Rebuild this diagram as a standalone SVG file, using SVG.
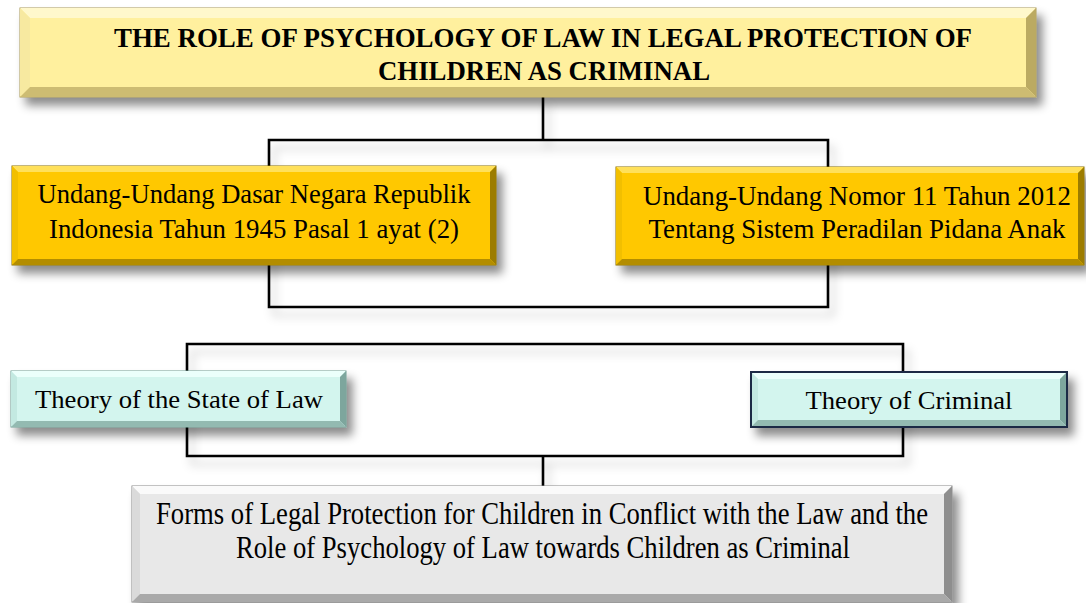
<svg xmlns="http://www.w3.org/2000/svg" width="1086" height="603" viewBox="0 0 1086 603">
<defs>
<filter id="sh" x="-10%" y="-25%" width="130%" height="170%">
<feDropShadow dx="6" dy="8" stdDeviation="5" flood-color="#000" flood-opacity="0.45"/>
</filter>
<filter id="lsh" x="-10%" y="-20%" width="130%" height="160%">
<feDropShadow dx="5" dy="8" stdDeviation="5" flood-color="#000" flood-opacity="0.22"/>
</filter>
</defs>
<style>
text{font-family:'Liberation Serif',serif;fill:#000;text-anchor:middle}
.t{font-weight:bold;font-size:28px}
.n{font-size:27px}
.m{font-size:26px}
.b{font-size:31px}
.conn{fill:none;stroke:#000;stroke-width:2.6}
.yf{fill:#FFF09E;stroke:#A89858;stroke-width:1}
.yt{fill:#FFF8CC}.yl{fill:#F7E9A0}.yr{fill:#BBAA62}.yb{fill:#CDBC72}
.of{fill:#FFC800;stroke:#8A6E00;stroke-width:1}
.ot{fill:#FFE05A}.ol{fill:#F2BF00}.or{fill:#9C7C00}.ob{fill:#B38D00}
.cf{fill:#D3F5EE;stroke:#6E9C92;stroke-width:1}
.cf2{fill:#D3F5EE;stroke:#1E2B45;stroke-width:2}
.ct{fill:#EBFFFB}.cl{fill:#C3E9E1}.cr{fill:#7DA69D}.cb{fill:#93BAB1}
.gf{fill:#E8E8E8;stroke:#8A8A8A;stroke-width:1}
.gt{fill:#FAFAFA}.gl{fill:#DADADA}.gr{fill:#8E8E8E}.gb{fill:#A9A9A9}
</style>
<g id="connectors" filter="url(#lsh)">
<path class="conn" d="M543,97 V140"/>
<path class="conn" d="M269,140 H828 V307 H269 Z"/>
<path class="conn" d="M187,344 H903 V456 H187 Z"/>
<path class="conn" d="M543,456 V486"/>
</g>
<g id="title" font-family="'Liberation Serif', serif">
<rect class="yf" x="20" y="8" width="1016" height="89" filter="url(#sh)"/>
<polygon class="yt" points="20,8 1036,8 1026,18 30,18"/>
<polygon class="yl" points="20,8 30,18 30,87 20,97"/>
<polygon class="yr" points="1036,8 1036,97 1026,87 1026,18"/>
<polygon class="yb" points="20,97 30,87 1026,87 1036,97"/>
<text class="t" x="543" y="47" textLength="858" lengthAdjust="spacingAndGlyphs">THE ROLE OF PSYCHOLOGY OF LAW IN LEGAL PROTECTION OF</text>
<text class="t" x="544" y="80" textLength="332" lengthAdjust="spacingAndGlyphs">CHILDREN AS CRIMINAL</text>
</g>
<g id="uud1945" font-family="'Liberation Serif', serif">
<rect class="of" x="12" y="166" width="484" height="99" filter="url(#sh)"/>
<polygon class="ot" points="12,166 496,166 490,172 18,172"/>
<polygon class="ol" points="12,166 18,172 18,259 12,265"/>
<polygon class="or" points="496,166 496,265 490,259 490,172"/>
<polygon class="ob" points="12,265 18,259 490,259 496,265"/>
<text class="n" x="254" y="203" textLength="433" lengthAdjust="spacingAndGlyphs">Undang-Undang Dasar Negara Republik</text>
<text class="n" x="254" y="238" textLength="410" lengthAdjust="spacingAndGlyphs">Indonesia Tahun 1945 Pasal 1 ayat (2)</text>
</g>
<g id="uu11" font-family="'Liberation Serif', serif">
<rect class="of" x="616" y="167" width="468" height="98" filter="url(#sh)"/>
<polygon class="ot" points="616,167 1084,167 1078,173 622,173"/>
<polygon class="ol" points="616,167 622,173 622,259 616,265"/>
<polygon class="or" points="1084,167 1084,265 1078,259 1078,173"/>
<polygon class="ob" points="616,265 622,259 1078,259 1084,265"/>
<text class="n" x="857" y="205" textLength="428" lengthAdjust="spacingAndGlyphs">Undang-Undang Nomor 11 Tahun 2012</text>
<text class="n" x="857" y="238" textLength="417" lengthAdjust="spacingAndGlyphs">Tentang Sistem Peradilan Pidana Anak</text>
</g>
<g id="stateoflaw" font-family="'Liberation Serif', serif">
<rect class="cf" x="11" y="371" width="335" height="56" filter="url(#sh)"/>
<polygon class="ct" points="11,371 346,371 340,377 17,377"/>
<polygon class="cl" points="11,371 17,377 17,421 11,427"/>
<polygon class="cr" points="346,371 346,427 340,421 340,377"/>
<polygon class="cb" points="11,427 17,421 340,421 346,427"/>
<text class="m" x="179" y="408" textLength="288" lengthAdjust="spacingAndGlyphs">Theory of the State of Law</text>
</g>
<g id="criminal" font-family="'Liberation Serif', serif">
<rect class="cf2" x="751" y="372" width="316" height="55" filter="url(#sh)"/>
<polygon class="ct" points="752,373 1066,373 1060,379 758,379"/>
<polygon class="cl" points="752,373 758,379 758,420 752,426"/>
<polygon class="cr" points="1066,373 1066,426 1060,420 1060,379"/>
<polygon class="cb" points="752,426 758,420 1060,420 1066,426"/>
<text class="m" x="909" y="409" textLength="207" lengthAdjust="spacingAndGlyphs">Theory of Criminal</text>
</g>
<g id="forms" font-family="'Liberation Serif', serif">
<rect class="gf" x="132" y="486" width="820" height="116" filter="url(#sh)"/>
<polygon class="gt" points="132,486 952,486 944,494 140,494"/>
<polygon class="gl" points="132,486 140,494 140,594 132,602"/>
<polygon class="gr" points="952,486 952,602 944,594 944,494"/>
<polygon class="gb" points="132,602 140,594 944,594 952,602"/>
<text class="b" x="542" y="524" textLength="772" lengthAdjust="spacingAndGlyphs">Forms of Legal Protection for Children in Conflict with the Law and the</text>
<text class="b" x="543" y="558" textLength="614" lengthAdjust="spacingAndGlyphs">Role of Psychology of Law towards Children as Criminal</text>
</g>
</svg>
